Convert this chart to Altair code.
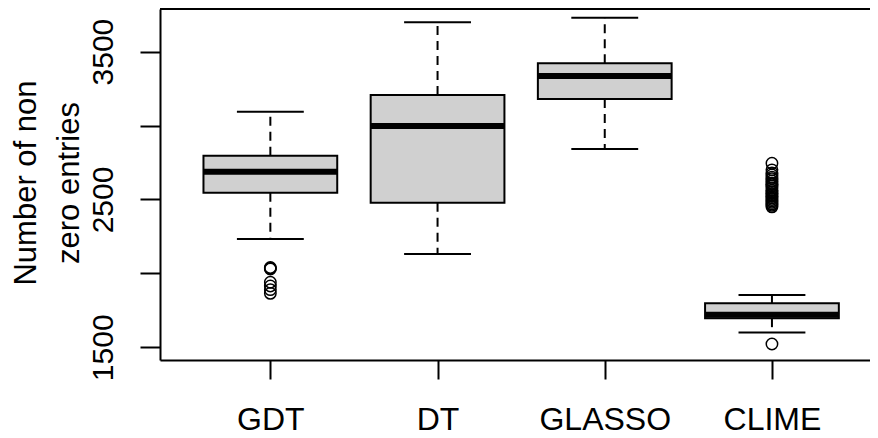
import json
import altair as alt
import pandas as pd

# ---- data ----
categories = ["GDT", "DT", "GLASSO", "CLIME"]
lower_whisker = [2232, 2131, 2841, 1600]
q1 = [2546, 2478, 3179, 1697]
median = [2688, 2997, 3335, 1720]
q3 = [2796, 3206, 3421, 1798]
upper_whisker = [3093, 3698, 3729, 1854]

outliers_gdt = [2040, 2035, 2030, 1940, 1915, 1890, 1865]
outliers_dt = []
outliers_glasso = []
outliers_clime = [1522, 2745, 2700, 2680, 2665, 2650, 2640, 2625, 2610, 2600,
                  2590, 2575, 2560, 2550, 2540, 2530, 2520, 2510, 2500, 2490,
                  2480, 2470, 2460, 2450]

y_tick_values = [1500, 2000, 2500, 3000, 3500]
y_label_values = [1500, 2500, 3500]
y_title = ["Number of non", "zero entries"]

# ---- tables ----
boxes = pd.DataFrame({
    "category": categories,
    "pos": list(range(1, len(categories) + 1)),
    "lower": lower_whisker,
    "q1": q1,
    "median": median,
    "q3": q3,
    "upper": upper_whisker,
})
out_lists = [outliers_gdt, outliers_dt, outliers_glasso, outliers_clime]
outliers = pd.DataFrame(
    [{"category": c, "pos": i + 1, "value": v}
     for i, (c, vals) in enumerate(zip(categories, out_lists)) for v in vals]
)

W, H = 710, 351
FONT = "Liberation Sans"
x_scale = alt.Scale(domain=[0.34, 0.34 + W / 167.2], nice=False, zero=False)
y_scale = alt.Scale(domain=[1414.1, 3788.0], nice=False, zero=False)

x_label_expr = json.dumps(categories) + "[datum.value - 1]"
y_label_expr = "indexof(" + json.dumps(y_label_values) + ", datum.value) >= 0 ? datum.label : ''"

x_axis = alt.Axis(values=[1, 2, 3, 4], labelExpr=x_label_expr, tickSize=19, tickWidth=2,
                  tickColor="black", domainColor="black", domainWidth=2,
                  labelFontSize=32, labelFont=FONT, labelColor="black",
                  labelPadding=25, labelBaseline="top", labelAlign="center",
                  labelFlush=False, labelOverlap=False, grid=False, title=None)
y_axis = alt.Axis(values=y_tick_values, format="d", labelExpr=y_label_expr,
                  tickSize=20, tickWidth=2, tickColor="black",
                  domainColor="black", domainWidth=2, grid=False,
                  labelAngle=270, labelAlign="center", labelBaseline="alphabetic",
                  labelPadding=28, labelFontSize=30, labelFont=FONT, labelColor="black",
                  labelFlush=False, labelOverlap=False,
                  title=y_title, titleFontSize=31, titleFont=FONT, titleFontWeight="normal",
                  titleColor="black", titleAngle=270, titleAlign="center",
                  titleBaseline="alphabetic", titleX=-125, titleY=173.5, titleLineHeight=43.5)


def X(field):
    return alt.X(field, scale=x_scale, axis=x_axis, title=None)


def Y(field):
    return alt.Y(field, scale=y_scale, axis=y_axis, title=y_title)


base = alt.Chart(boxes).transform_calculate(
    left="datum.pos - 0.4", right="datum.pos + 0.4",
    capL="datum.pos - 0.2", capR="datum.pos + 0.2")

dash = [9, 6]
box = base.mark_rect(fill="#d0d0d0", stroke="black", strokeWidth=2).encode(
    x=X("left:Q"), x2="right:Q", y=Y("q1:Q"), y2="q3:Q")
whisk_up = base.mark_rule(color="black", strokeWidth=2, strokeDash=dash).encode(
    x=X("pos:Q"), y=Y("q3:Q"), y2="upper:Q")
whisk_lo = base.mark_rule(color="black", strokeWidth=2, strokeDash=dash).encode(
    x=X("pos:Q"), y=Y("q1:Q"), y2="lower:Q")
cap_up = base.mark_rule(color="black", strokeWidth=2).encode(
    x=X("capL:Q"), x2="capR:Q", y=Y("upper:Q"))
cap_lo = base.mark_rule(color="black", strokeWidth=2).encode(
    x=X("capL:Q"), x2="capR:Q", y=Y("lower:Q"))
med = base.mark_rule(color="black", strokeWidth=6).encode(
    x=X("left:Q"), x2="right:Q", y=Y("median:Q"))
pts = alt.Chart(outliers).mark_point(shape="circle", filled=False, color="black",
                                      strokeWidth=1.5, size=130, opacity=1).encode(
    x=X("pos:Q"), y=Y("value:Q"))
top = alt.Chart(boxes).mark_rule(color="black", strokeWidth=2).encode(
    x=alt.value(0), x2=alt.value(W), y=alt.value(0))

chart = alt.layer(box, whisk_up, whisk_lo, cap_up, cap_lo, med, pts, top).properties(
    width=W, height=H,
    autosize=alt.AutoSizeParams(type="none"),
    padding={"left": 152, "top": 1, "right": 0, "bottom": 78},
    background="white",
).configure_view(stroke=None)

chart.save("out.html", embed_options={"renderer": "svg", "actions": False})
